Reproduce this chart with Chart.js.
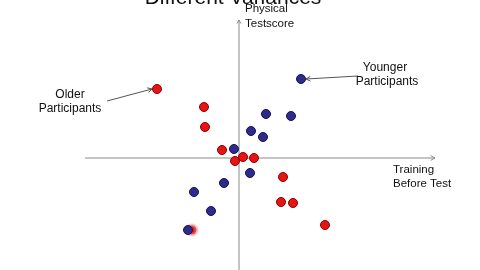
<!DOCTYPE html>
<html>
<head>
<meta charset="utf-8">
<script src="https://cdn.jsdelivr.net/npm/chart.js@4/dist/chart.umd.min.js"></script>
<style>
html,body{margin:0;padding:0;background:#fff;}
#wrap{position:relative;width:480px;height:270px;}
</style>
</head>
<body>
<div id="wrap"><canvas id="c" width="480" height="270"></canvas></div>
<script>
// Data (x = training before test, y = physical testscore), origin at axis crossing
const olderX = [-8.2, -3.5, -3.4, -1.7, -0.4, 0.4, 1.5, 4.4, 4.2, 5.4, 8.6, -4.7];
const olderY = [6.9, 5.1, 3.1, 0.8, -0.3, 0.1, 0.0, -1.9, -4.4, -4.5, -6.7, -7.2];
const youngerX = [6.2, 2.7, 5.2, 1.2, 2.4, -0.5, 1.1, -1.5, -4.5, -2.8, -5.1];
const youngerY = [7.9, 4.4, 4.2, 2.7, 2.1, 0.9, -1.5, -2.5, -3.4, -5.3, -7.2];
const titleText = "Different Variances";
const xAxisLabel = ["Training", "Before Test"];
const yAxisLabel = ["Physical", "Testscore"];
const olderLabel = ["Older", "Participants"];
const youngerLabel = ["Younger", "Participants"];

const toPts = (xs, ys) => xs.map((x, i) => ({x: x, y: ys[i]}));

function arrow(ctx, x1, y1, x2, y2, head) {
  ctx.beginPath(); ctx.moveTo(x1, y1); ctx.lineTo(x2, y2); ctx.stroke();
  const a = Math.atan2(y2 - y1, x2 - x1);
  ctx.beginPath();
  ctx.moveTo(x2 - head * Math.cos(a - 0.5), y2 - head * Math.sin(a - 0.5));
  ctx.lineTo(x2, y2);
  ctx.lineTo(x2 - head * Math.cos(a + 0.5), y2 - head * Math.sin(a + 0.5));
  ctx.stroke();
}

const overlay = {
  id: 'overlay',
  beforeDatasetsDraw(chart) {
    const ctx = chart.ctx, xs = chart.scales.x, ys = chart.scales.y;
    const X = v => xs.getPixelForValue(v), Y = v => ys.getPixelForValue(v);
    ctx.save();
    ctx.strokeStyle = '#8a8a8a'; ctx.lineWidth = 1;
    // horizontal axis
    arrow(ctx, X(-15.4), Y(0), X(19.6), Y(0), 5);
    // vertical axis
    arrow(ctx, X(0), Y(-11.2), X(0), Y(13.8), 4);
    ctx.restore();
  },
  afterDatasetsDraw(chart) {
    const ctx = chart.ctx, xs = chart.scales.x, ys = chart.scales.y;
    const X = v => xs.getPixelForValue(v), Y = v => ys.getPixelForValue(v);
    ctx.save();
    ctx.strokeStyle = '#555'; ctx.lineWidth = 1;
    // pointer arrows
    arrow(ctx, X(-13.2), Y(5.7), X(-8.7), Y(6.9), 5);
    arrow(ctx, X(11.9), Y(8.2), X(6.7), Y(7.9), 5);
    ctx.fillStyle = '#111';
    ctx.font = '11.5px "Liberation Sans", Arial, sans-serif';
    ctx.textBaseline = 'middle';
    ctx.textAlign = 'left';
    ctx.fillText(yAxisLabel[0], X(0.6), Y(14.9));
    ctx.fillText(yAxisLabel[1], X(0.6), Y(13.4));
    ctx.fillText(xAxisLabel[0], X(15.4), Y(-1.2));
    ctx.fillText(xAxisLabel[1], X(15.4), Y(-2.6));
    ctx.font = '12px "Liberation Sans", Arial, sans-serif';
    ctx.textAlign = 'center';
    ctx.fillText(youngerLabel[0], X(14.6), Y(9.0));
    ctx.fillText(youngerLabel[1], X(14.8), Y(7.6));
    ctx.fillText(olderLabel[0], X(-16.9), Y(6.3));
    ctx.fillText(olderLabel[1], X(-16.9), Y(4.9));
    // cropped title
    ctx.font = '21px "Liberation Sans", Arial, sans-serif';
    ctx.textBaseline = 'alphabetic';
    ctx.fillText(titleText, X(-0.6), Y(15.4));
    ctx.restore();
  }
};

const redBorder = olderX.map((v, i) => i === olderX.length - 1 ? 'rgba(240,130,130,0.45)' : '#8a0000');
const redBW = olderX.map((v, i) => i === olderX.length - 1 ? 4 : 1);

new Chart(document.getElementById('c'), {
  type: 'scatter',
  data: {
    datasets: [
      {
        label: 'Younger Participants',
        data: toPts(youngerX, youngerY),
        backgroundColor: '#2f2b8c',
        borderColor: '#15124a',
        borderWidth: 1,
        pointRadius: 4.5,
        pointHoverRadius: 4.5
      },
      {
        label: 'Older Participants',
        data: toPts(olderX, olderY),
        backgroundColor: '#e81414',
        borderColor: redBorder,
        borderWidth: redBW,
        pointRadius: 4.5,
        pointHoverRadius: 4.5
      }
    ]
  },
  options: {
    responsive: false,
    animation: false,
    layout: {padding: 0, autoPadding: false},
    plugins: {legend: {display: false}, tooltip: {enabled: false}, title: {display: false}},
    scales: {
      x: {type: 'linear', min: -23.9, max: 24.1, display: false},
      y: {type: 'linear', min: -11.2, max: 15.8, display: false}
    }
  },
  plugins: [overlay]
});
</script>
</body>
</html>
